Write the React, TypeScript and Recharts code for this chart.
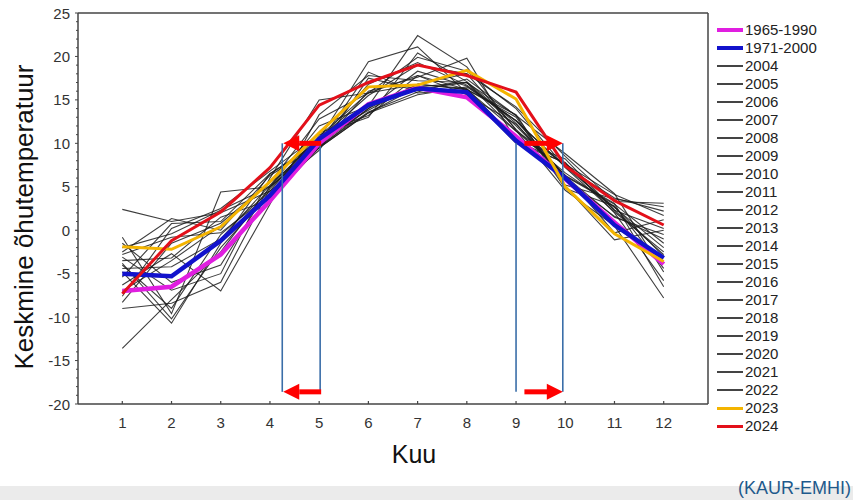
import React from 'react';
import { LineChart, Line, XAxis, YAxis, Legend, ReferenceLine } from 'recharts';

const FONT = '"Liberation Sans", Arial, Helvetica, sans-serif';

const MONTHS = [1, 2, 3, 4, 5, 6, 7, 8, 9, 10, 11, 12];
const X_TICKS = [1, 2, 3, 4, 5, 6, 7, 8, 9, 10, 11, 12];
const Y_TICKS = [
  -20, -19, -18, -17, -16, -15, -14, -13, -12, -11, -10, -9, -8, -7, -6, -5, -4, -3, -2, -1,
  0, 1, 2, 3, 4, 5, 6, 7, 8, 9, 10, 11, 12, 13, 14, 15, 16, 17, 18, 19, 20, 21, 22, 23, 24, 25,
];

// Monthly mean air temperature (°C)
const norm1965_1990 = [-7.0, -6.5, -2.8, 3.4, 10.0, 14.5, 16.4, 15.3, 10.8, 5.9, 0.9, -3.9];
const norm1971_2000 = [-5.0, -5.3, -1.2, 4.0, 10.5, 14.4, 16.3, 15.9, 10.3, 6.0, 0.6, -3.2];
const y2004 = [-7.0, -3.5, 0.5, 5.5, 9.5, 13.5, 16.5, 17.0, 12.0, 6.2, 1.5, -0.5];
const y2005 = [-1.5, -6.0, -4.0, 5.0, 9.5, 14.0, 18.3, 16.6, 12.6, 7.3, 2.6, -2.0];
const y2006 = [-9.0, -8.4, -6.0, 4.8, 10.5, 15.5, 19.0, 18.0, 14.2, 8.5, 3.3, 3.1];
const y2007 = [-0.8, -9.6, 4.4, 5.0, 10.8, 15.8, 16.8, 18.0, 11.6, 6.3, -0.3, 1.2];
const y2008 = [-2.5, 1.35, 0.0, 6.3, 9.8, 14.0, 16.8, 16.3, 10.5, 8.2, 2.3, 0.2];
const y2009 = [-4.4, -4.2, -1.0, 5.2, 10.5, 13.8, 16.8, 16.2, 13.0, 4.8, 2.8, -4.4];
const y2010 = [-13.6, -8.0, -2.5, 5.0, 12.0, 14.3, 22.4, 18.8, 11.5, 4.6, 0.5, -7.8];
const y2011 = [-4.8, -10.7, -1.5, 6.5, 10.2, 16.8, 19.3, 16.7, 12.6, 7.3, 3.7, 2.2];
const y2012 = [-4.0, -9.0, -0.5, 4.5, 11.2, 13.2, 17.8, 15.6, 12.2, 6.3, 3.1, -6.5];
const y2013 = [-6.3, -2.7, -7.0, 3.0, 13.3, 17.8, 17.2, 17.0, 11.4, 7.6, 4.1, 1.7];
const y2014 = [-7.6, 0.2, 2.5, 6.8, 11.0, 13.0, 20.4, 17.1, 12.3, 5.8, 1.6, -1.0];
const y2015 = [-2.0, -0.4, 2.3, 5.0, 9.7, 13.6, 15.9, 17.4, 13.2, 5.2, 3.6, 2.7];
const y2016 = [-8.3, -1.5, 0.8, 5.5, 12.8, 15.8, 17.8, 16.2, 13.3, 5.0, -1.1, 0.0];
const y2017 = [-3.5, -3.2, 1.5, 3.5, 9.5, 13.5, 15.6, 16.5, 12.6, 6.2, 3.0, -1.5];
const y2018 = [-3.1, -6.9, -5.0, 6.0, 15.0, 15.8, 19.9, 18.3, 14.0, 7.2, 2.1, -2.5];
const y2019 = [-5.4, 0.77, 1.0, 6.5, 10.0, 18.2, 15.8, 16.2, 11.4, 6.6, 2.7, -3.0];
const y2020 = [2.4, 1.0, 2.0, 4.5, 9.2, 17.5, 16.2, 17.0, 13.2, 8.8, 4.2, -4.8];
const y2021 = [-3.8, -10.2, -2.0, 4.3, 10.5, 19.4, 21.1, 15.8, 10.0, 7.8, 2.0, -5.8];
const y2022 = [-2.8, -0.8, -0.3, 4.0, 9.5, 16.0, 17.6, 19.8, 10.3, 7.7, 2.3, -2.8];
const y2023 = [-1.9, -2.2, 0.4, 5.6, 11.2, 16.5, 16.7, 18.4, 15.1, 5.0, -0.4, -3.6];
const y2024 = [-7.3, -1.2, 2.1, 7.2, 14.4, 17.0, 19.0, 17.8, 15.9, 7.4, 3.4, 0.6];

// Marker annotations (month, °C)
const leftWindow = [4.25, 5.02];
const rightWindow = [9.0, 9.95];
const windowTop = 10;
const windowBottom = -18.6;

type Series = { key: string; label: string; values: number[]; color: string; width: number; legendWidth: number };

const BLACK = '#1c1c1c';
const blackYears: [string, number[]][] = [
  ['2004', y2004], ['2005', y2005], ['2006', y2006], ['2007', y2007], ['2008', y2008],
  ['2009', y2009], ['2010', y2010], ['2011', y2011], ['2012', y2012], ['2013', y2013],
  ['2014', y2014], ['2015', y2015], ['2016', y2016], ['2017', y2017], ['2018', y2018],
  ['2019', y2019], ['2020', y2020], ['2021', y2021], ['2022', y2022],
];

const S1965: Series = { key: 'n1965', label: '1965-1990', values: norm1965_1990, color: '#e01ee0', width: 4.5, legendWidth: 4 };
const S1971: Series = { key: 'n1971', label: '1971-2000', values: norm1971_2000, color: '#1212cc', width: 4.5, legendWidth: 4 };
const SBLACK: Series[] = blackYears.map(([label, values]) => ({
  key: 'y' + label, label, values, color: BLACK, width: 1.1, legendWidth: 1.5,
}));
const S2023: Series = { key: 'y2023', label: '2023', values: y2023, color: '#f4b400', width: 3, legendWidth: 3 };
const S2024: Series = { key: 'y2024', label: '2024', values: y2024, color: '#e3101a', width: 3, legendWidth: 3 };

const LEGEND_ORDER: Series[] = [S1965, S1971, ...SBLACK, S2023, S2024];
const DRAW_ORDER: Series[] = [...SBLACK, S1965, S1971, S2023, S2024];

const data = MONTHS.map((m, i) => {
  const row: Record<string, number> = { month: m };
  LEGEND_ORDER.forEach((s) => {
    row[s.key] = s.values[i];
  });
  return row;
});

const Arrow = (props: any) => {
  const { x1, y1, x2, y2 } = props;
  if ([x1, y1, x2, y2].some((v) => typeof v !== 'number' || isNaN(v))) return null;
  const dir = x2 > x1 ? 1 : -1;
  const head = 16;
  const half = 8;
  const shaft = 5;
  const baseX = x2 - dir * head;
  return (
    <g>
      <rect
        x={Math.min(x1, baseX)}
        y={y1 - shaft / 2}
        width={Math.abs(baseX - x1) + 1}
        height={shaft}
        fill="#ff0000"
      />
      <polygon points={`${x2},${y2} ${baseX},${y2 - half} ${baseX},${y2 + half}`} fill="#ff0000" />
    </g>
  );
};

const YTick = (props: any) => {
  const { x, y, payload } = props;
  const v = payload.value;
  const major = v % 5 === 0;
  return (
    <g>
      <line x1={x} x2={x - (major ? 3 : 2)} y1={y} y2={y} stroke="#444" strokeWidth={1} />
      {major && (
        <text x={70} y={y} textAnchor="end" dominantBaseline="central" fill="#333" style={{ fontSize: 15, fontFamily: FONT }}>
          {v}
        </text>
      )}
    </g>
  );
};

const XTick = (props: any) => {
  const { x, y, payload } = props;
  return (
    <g>
      <line x1={x} x2={x} y1={y} y2={y - 3} stroke="#444" strokeWidth={1.2} />
      <text x={x} y={y + 24} textAnchor="middle" fill="#333" style={{ fontSize: 15, fontFamily: FONT }}>
        {payload.value}
      </text>
    </g>
  );
};

const renderLegend = () => (
  <div style={{ width: 137, fontFamily: FONT, fontSize: 15, color: '#222' }}>
    {LEGEND_ORDER.map((s) => (
      <div key={s.key} style={{ display: 'flex', alignItems: 'center', height: 18 }}>
        <div style={{ width: 26, height: s.legendWidth, background: s.color === BLACK ? '#444' : s.color, marginLeft: 1, marginRight: 2 }} />
        <span style={{ lineHeight: '18px', whiteSpace: 'nowrap' }}>{s.label}</span>
      </div>
    ))}
  </div>
);

export default function App() {
  return (
    <div style={{ position: 'absolute', left: 0, top: 0, width: 853, height: 500, background: '#fff', overflow: 'hidden' }}>
      <LineChart width={853} height={500} data={data} margin={{ top: 13, right: 8, bottom: 0, left: 0 }}>
        <XAxis
          dataKey="month"
          type="number"
          domain={[0.1, 12.9]}
          ticks={X_TICKS}
          interval={0}
          height={96}
          tickSize={0}
          tickMargin={0}
          tickLine={false}
          tick={<XTick />}
          axisLine={{ stroke: '#444', strokeWidth: 1.5 }}
          label={{
            content: () => (
              <text x={414} y={463} textAnchor="middle" fill="#111" style={{ fontSize: 25, fontFamily: FONT }}>
                Kuu
              </text>
            ),
          }}
        />
        <YAxis
          type="number"
          domain={[-20, 25]}
          ticks={Y_TICKS}
          interval={0}
          width={78}
          tickSize={0}
          tickMargin={0}
          tickLine={false}
          tick={<YTick />}
          axisLine={{ stroke: '#444', strokeWidth: 1.5 }}
          label={{
            content: () => (
              <text
                x={24}
                y={217}
                transform="rotate(-90, 24, 217)"
                textAnchor="middle"
                dominantBaseline="central"
                fill="#111"
                style={{ fontSize: 26, fontFamily: FONT }}
              >
                Keskmine õhutemperatuur
              </text>
            ),
          }}
        />
        <Legend
          layout="vertical"
          align="right"
          verticalAlign="top"
          content={renderLegend}
          wrapperStyle={{ left: 716, top: 21, right: 'auto', width: 137 }}
        />
        <ReferenceLine y={25} stroke="#444" strokeWidth={1.5} />
        <ReferenceLine x={12.9} stroke="#444" strokeWidth={1.5} />
        {DRAW_ORDER.map((s) => (
          <Line
            key={s.key}
            type="linear"
            dataKey={s.key}
            name={s.label}
            stroke={s.color}
            strokeWidth={s.width}
            strokeOpacity={s.color === BLACK ? 0.85 : 1}
            dot={false}
            activeDot={false}
            isAnimationActive={false}
          />
        ))}
        {[...leftWindow, ...rightWindow].map((x) => (
          <ReferenceLine
            key={'v' + x}
            segment={[{ x, y: windowTop }, { x, y: windowBottom }]}
            stroke="#3a6ea8"
            strokeWidth={1.6}
          />
        ))}
        <ReferenceLine segment={[{ x: leftWindow[1], y: windowTop }, { x: leftWindow[0] + 0.02, y: windowTop }]} shape={<Arrow />} />
        <ReferenceLine segment={[{ x: leftWindow[1], y: windowBottom }, { x: leftWindow[0] + 0.02, y: windowBottom }]} shape={<Arrow />} />
        <ReferenceLine segment={[{ x: rightWindow[0] + 0.17, y: windowTop }, { x: rightWindow[1], y: windowTop }]} shape={<Arrow />} />
        <ReferenceLine segment={[{ x: rightWindow[0] + 0.17, y: windowBottom }, { x: rightWindow[1], y: windowBottom }]} shape={<Arrow />} />
      </LineChart>
      <div style={{ position: 'absolute', left: 0, top: 486, width: 853, height: 14, background: '#ebebeb' }} />
      <div
        style={{
          position: 'absolute',
          right: 2,
          top: 478,
          fontFamily: FONT,
          fontSize: 18,
          lineHeight: '20px',
          color: '#1f5a8c',
          whiteSpace: 'nowrap',
        }}
      >
        (KAUR-EMHI)
      </div>
    </div>
  );
}
